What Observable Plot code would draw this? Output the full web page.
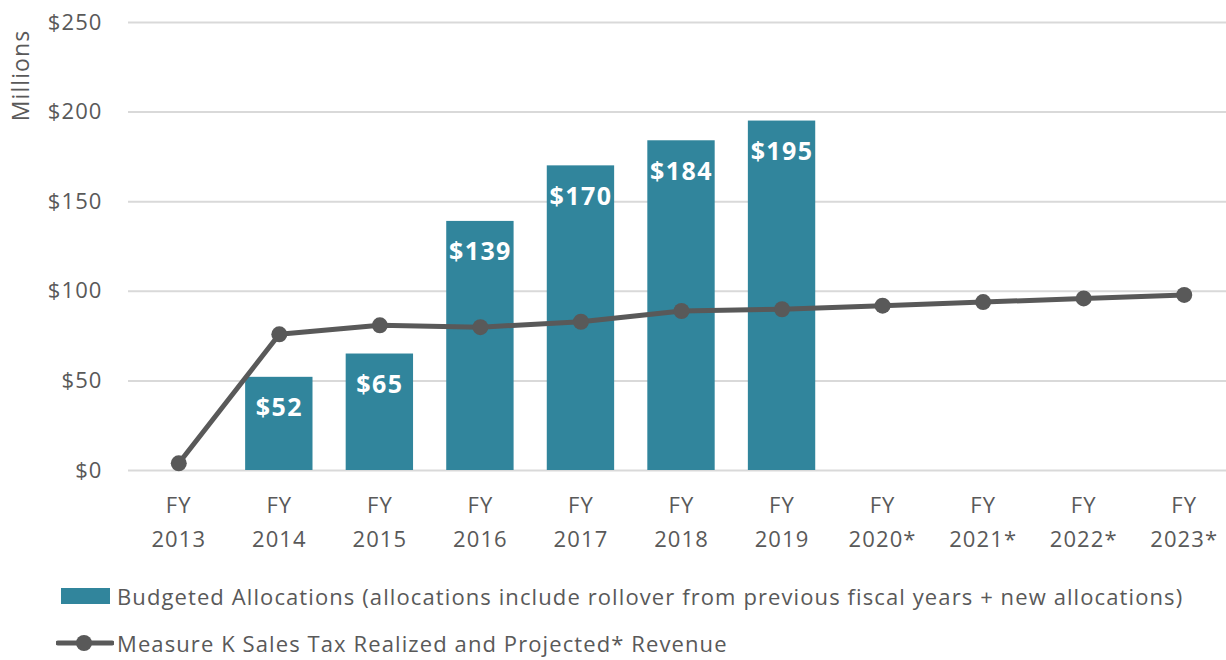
<!DOCTYPE html>
<html>
<head>
<meta charset="utf-8">
<script src="https://cdn.jsdelivr.net/npm/d3@7"></script>
<script src="https://cdn.jsdelivr.net/npm/@observablehq/plot@0.6"></script>
<style>
  body { margin: 0; background: #fff; font-family: "Open Sans", sans-serif; color: #595959; }
  #legend { position: relative; height: 90px; font-size: 22px; letter-spacing: 1.1px; }
  .sw-bar { position: absolute; left: 61px; width: 49px; height: 16px; background: #31859C; }
  .lab { position: absolute; left: 117px; white-space: nowrap; }
  #chart svg text { letter-spacing: 1.1px; }
  #chart svg g[fill="white"] text { letter-spacing: 1.4px; }
</style>
</head>
<body>
<div id="chart"></div>
<div id="legend"></div>
<script>
const categories = ["FY 2013","FY 2014","FY 2015","FY 2016","FY 2017","FY 2018","FY 2019","FY 2020*","FY 2021*","FY 2022*","FY 2023*"];
const barCategories = ["FY 2014","FY 2015","FY 2016","FY 2017","FY 2018","FY 2019"];
const allocations = [52, 65, 139, 170, 184, 195];
const revenue = [4, 76, 81, 80, 83, 89, 90, 92, 94, 96, 98];
const yTicks = [0, 50, 100, 150, 200, 250];
const seriesNames = ["Budgeted Allocations (allocations include rollover from previous fiscal years + new allocations)", "Measure K Sales Tax Realized and Projected* Revenue"];

const barColor = "#31859C";
const lineColor = "#595959";

const bars = barCategories.map((c, i) => ({cat: c, value: allocations[i]}));
const line = categories.map((c, i) => ({cat: c, value: revenue[i]}));

const chart = Plot.plot({
  width: 1226,
  height: 570,
  marginLeft: 128,
  marginRight: 0,
  marginTop: 22,
  marginBottom: 100,
  style: {fontFamily: "'Open Sans', sans-serif", color: "#595959", background: "#fff"},
  x: {domain: categories, range: [128, 1234], paddingInner: 0.33, paddingOuter: 0.165, round: false},
  y: {domain: [0, 250]},
  marks: [
    Plot.ruleY(yTicks, {stroke: "#d9d9d9", strokeWidth: 2}),
    Plot.axisY({ticks: yTicks, tickFormat: d => "$" + d, tickSize: 0, tickPadding: 26, fontSize: 22, fill: "#595959", label: null}),
    Plot.axisX({tickFormat: d => d.replace(" ", "\n"), tickSize: 0, tickPadding: 18, fontSize: 22, lineHeight: 1.55, fill: "#595959", label: null}),
    Plot.barY(bars, {x: "cat", y: "value", fill: barColor}),
    Plot.text(bars, {x: "cat", y: "value", text: d => "$" + d.value, dy: 31, fill: "white", fontWeight: "bold", fontSize: 25}),
    Plot.line(line, {x: "cat", y: "value", stroke: lineColor, strokeWidth: 5}),
    Plot.dot(line, {x: "cat", y: "value", r: 8, fill: lineColor}),
    Plot.text(["Millions"], {frameAnchor: "top-left", text: d => d, rotate: -90, textAnchor: "middle", lineAnchor: "middle", dx: -107, dy: 53, fontSize: 23, fill: "#595959"})
  ]
});
document.getElementById("chart").appendChild(chart);

const legend = document.getElementById("legend");
legend.innerHTML = `
  <div class="sw-bar" style="top:18px"></div>
  <div class="lab" style="top:13px;line-height:26px">${seriesNames[0]}</div>
  <svg style="position:absolute;left:56px;top:62px" width="58" height="22"><line x1="2" y1="11" x2="56" y2="11" stroke="${lineColor}" stroke-width="5" stroke-linecap="round"/><circle cx="28" cy="11" r="8" fill="${lineColor}"/></svg>
  <div class="lab" style="top:60px;line-height:26px">${seriesNames[1]}</div>
`;
</script>
</body>
</html>
